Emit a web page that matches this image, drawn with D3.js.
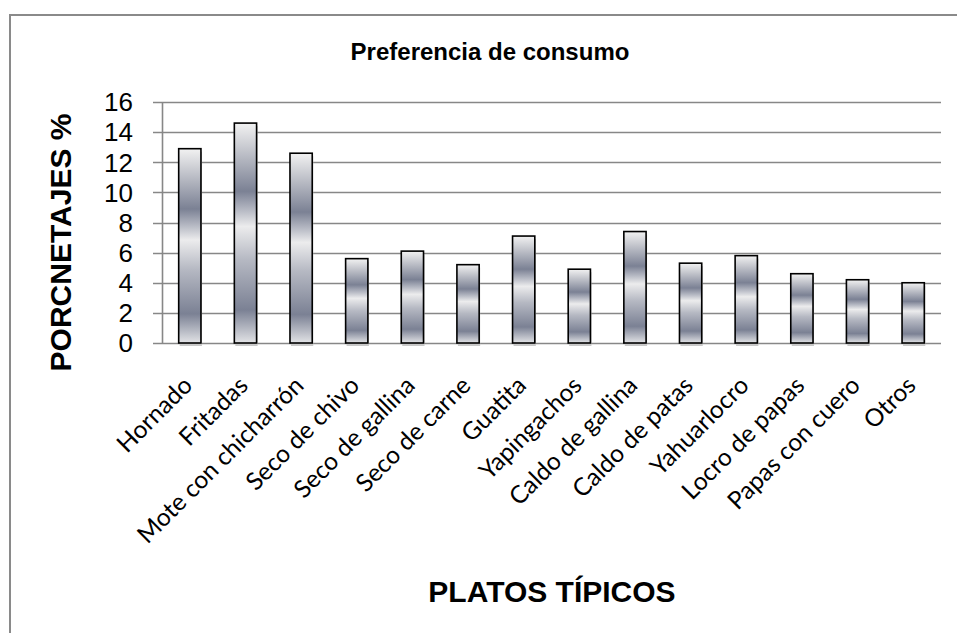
<!DOCTYPE html>
<html>
<head>
<meta charset="utf-8">
<script src="https://cdn.jsdelivr.net/npm/d3@7"></script>
<style>
  body { margin: 0; background: #fff; }
  svg { display: block; }
</style>
</head>
<body>
<div class="viz"></div>
<script>
var categories = ["Hornado", "Fritadas", "Mote con chicharrón", "Seco de chivo",
  "Seco de gallina", "Seco de carne", "Guatita", "Yapingachos", "Caldo de gallina",
  "Caldo de patas", "Yahuarlocro", "Locro de papas", "Papas con cuero", "Otros"];
var values = [12.9, 14.6, 12.6, 5.6, 6.1, 5.2, 7.1, 4.9, 7.4, 5.3, 5.8, 4.6, 4.2, 4.0];
var yTicks = [0, 2, 4, 6, 8, 10, 12, 14, 16];
var title = "Preferencia de consumo",
  yTitle = "PORCNETAJES %",
  xTitle = "PLATOS TÍPICOS";

var width = 957,
  height = 633,
  margin = { top: 102, right: 16, bottom: 290, left: 162 };

var svg = d3.select(".viz").append("svg")
  .attr("width", width)
  .attr("height", height);

// chart frame
svg.append("rect")
  .attr("x", 10).attr("y", 15)
  .attr("width", width + 20).attr("height", height + 20)
  .attr("fill", "#fff")
  .attr("stroke", "#8a8a8a")
  .attr("stroke-width", 2);

var defs = svg.append("defs");
var grad = defs.append("linearGradient")
  .attr("id", "barFill")
  .attr("x1", 0).attr("y1", 0).attr("x2", 0).attr("y2", 1);
[
  [0, "#f2f2f2"], [0.12, "#c4c6cd"], [0.31, "#7b8194"], [0.4, "#b9bcc6"],
  [0.47, "#ececed"], [0.62, "#b6b9c3"], [0.85, "#7b8194"], [1, "#e2e3e6"]
].forEach(function (s) {
  grad.append("stop").attr("offset", s[0]).attr("stop-color", s[1]);
});

var x = d3.scaleBand()
  .domain(categories)
  .range([margin.left, width - margin.right])
  .paddingInner(0.6)
  .paddingOuter(0.3);

var y = d3.scaleLinear()
  .domain([0, 16])
  .range([height - margin.bottom, margin.top]);

var y0 = y(0);

// gridlines
svg.append("g")
  .selectAll("line")
  .data(yTicks)
  .enter()
  .append("line")
  .attr("x1", margin.left - 9)
  .attr("x2", width - margin.right)
  .attr("y1", function (d) { return Math.round(y(d)) + 0.5; })
  .attr("y2", function (d) { return Math.round(y(d)) + 0.5; })
  .attr("stroke", "#878787")
  .attr("stroke-width", 1.6);

// y axis line
svg.append("line")
  .attr("x1", margin.left + 0.5).attr("x2", margin.left + 0.5)
  .attr("y1", y(16)).attr("y2", y0)
  .attr("stroke", "#878787")
  .attr("stroke-width", 1.6);

// y tick labels
svg.append("g")
  .selectAll("text")
  .data(yTicks)
  .enter()
  .append("text")
  .attr("x", margin.left - 29)
  .attr("y", function (d) { return y(d); })
  .attr("dy", "0.36em")
  .attr("text-anchor", "end")
  .style("font-family", "Liberation Sans, Arial")
  .style("font-size", "26px")
  .attr("fill", "#000")
  .text(function (d) { return d; });

// bar shadows
svg.append("g")
  .selectAll("rect")
  .data(values)
  .enter()
  .append("rect")
  .attr("x", function (d, i) { return x(categories[i]) + 1; })
  .attr("y", function (d) { return y(d) + 3; })
  .attr("width", x.bandwidth())
  .attr("height", function (d) { return y0 - y(d); })
  .attr("fill", "#c8c8c8");

// bars
svg.append("g")
  .selectAll("rect")
  .data(values)
  .enter()
  .append("rect")
  .attr("x", function (d, i) { return x(categories[i]); })
  .attr("y", function (d) { return y(d); })
  .attr("width", x.bandwidth())
  .attr("height", function (d) { return y0 - y(d); })
  .attr("fill", "url(#barFill)")
  .attr("stroke", "#000")
  .attr("stroke-width", 1.6);

// x labels
svg.append("g")
  .selectAll("text")
  .data(categories)
  .enter()
  .append("text")
  .attr("transform", function (d) {
    return "translate(" + (x(d) + x.bandwidth() / 2 + 4) + "," + (y0 + 44) + ")rotate(-45)";
  })
  .attr("text-anchor", "end")
  .style("font-family", "Lato, Open Sans, sans-serif")
  .style("font-size", "24.5px")
  .attr("fill", "#000")
  .text(function (d) { return d; });

// titles
svg.append("text")
  .attr("x", 490).attr("y", 60)
  .attr("text-anchor", "middle")
  .style("font-family", "Liberation Sans, Arial")
  .style("font-weight", "bold")
  .style("font-size", "24px")
  .text(title);

svg.append("text")
  .attr("transform", "translate(71," + ((y(16) + y0) / 2 + 20) + ")rotate(-90)")
  .attr("text-anchor", "middle")
  .style("font-family", "Liberation Sans, Arial")
  .style("font-weight", "bold")
  .style("font-size", "30px")
  .text(yTitle);

svg.append("text")
  .attr("x", 552).attr("y", 602)
  .attr("text-anchor", "middle")
  .style("font-family", "Liberation Sans, Arial")
  .style("font-weight", "bold")
  .style("font-size", "30px")
  .text(xTitle);
</script>
</body>
</html>
